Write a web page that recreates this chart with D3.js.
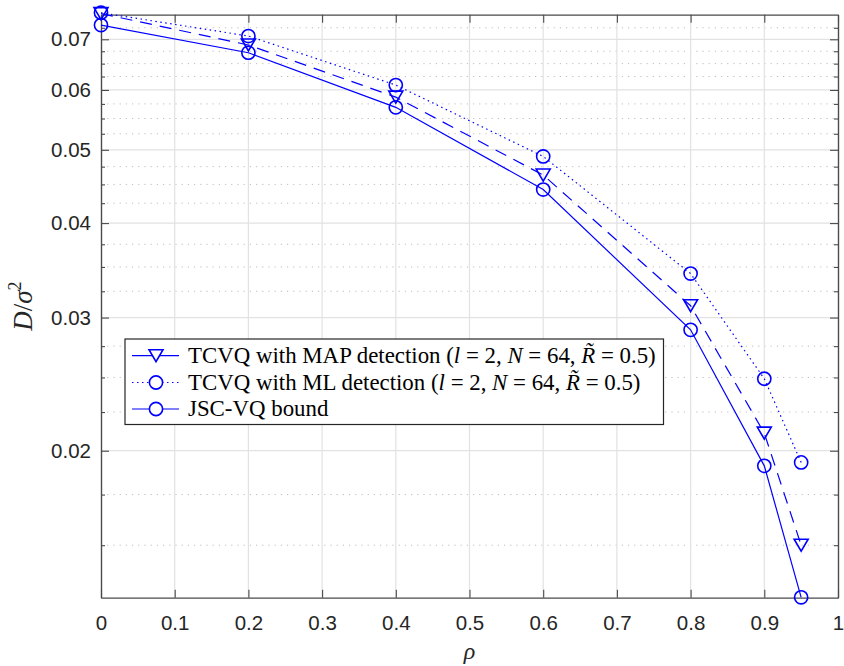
<!DOCTYPE html>
<html>
<head>
<meta charset="utf-8">
<script src="https://cdn.jsdelivr.net/npm/d3@7"></script>
<style>
  html, body { margin: 0; padding: 0; background: #fff; }
  svg { display: block; }
</style>
</head>
<body>
<svg id="chart" width="844" height="666"></svg>
<script>
// ---- data ----
const rho = [0, 0.2, 0.4, 0.6, 0.8, 0.9, 0.95];
const mapDet = [0.0757, 0.0688, 0.0587, 0.0463, 0.0311, 0.0211, 0.0150];
const mlDet  = [0.0759, 0.0707, 0.0609, 0.0490, 0.0343, 0.0249, 0.0193];
const jscBound = [0.0731, 0.0672, 0.0569, 0.0443, 0.0289, 0.0191, 0.0128];

const xTicks = [0, 0.1, 0.2, 0.3, 0.4, 0.5, 0.6, 0.7, 0.8, 0.9, 1];
const yMajorTicks = [0.02, 0.03, 0.04, 0.05, 0.06, 0.07];
const yMinorTicks = [0.015, 0.0175, 0.0225, 0.025, 0.0275, 0.0325, 0.035, 0.0375,
                     0.0425, 0.045, 0.0475, 0.0525, 0.055, 0.0575, 0.0625, 0.065, 0.0675, 0.0725];
const yDomain = [0.012784, 0.075445];

const legendLabels = ["MAP", "ML", "JSC"];

// ---- layout ----
const L = 101, R = 838, T = 14.7, B = 597.7;
const blue = "#0000ff";
const axisColor = "#4a4a4a";
const textColor = "#262626";

const svg = d3.select("#chart");
const x = d3.scaleLinear().domain([0, 1]).range([L, R]);
const y = d3.scaleLog().domain(yDomain).range([B, T]);

// grid
const grid = svg.append("g");
grid.selectAll(".ymin").data(yMinorTicks).enter().append("line")
  .attr("x1", L).attr("x2", R)
  .attr("y1", d => y(d)).attr("y2", d => y(d))
  .attr("stroke", "#bdbdbd").attr("stroke-width", 1)
  .attr("stroke-dasharray", "1.2,5");
grid.selectAll(".xg").data(xTicks.slice(1, -1)).enter().append("line")
  .attr("x1", d => x(d)).attr("x2", d => x(d))
  .attr("y1", T).attr("y2", B)
  .attr("stroke", "#e2e2e2").attr("stroke-width", 1.2);
grid.selectAll(".yg").data(yMajorTicks).enter().append("line")
  .attr("x1", L).attr("x2", R)
  .attr("y1", d => y(d)).attr("y2", d => y(d))
  .attr("stroke", "#e2e2e2").attr("stroke-width", 1.2);

// axes (box)
const ax = svg.append("g");
const xAxisB = d3.axisBottom(x).tickValues(xTicks).tickFormat(d3.format("~g")).tickSizeInner(-8).tickSizeOuter(0).tickPadding(18);
const gxb = ax.append("g").attr("transform", `translate(0,${B})`).call(xAxisB);
const xAxisT = d3.axisTop(x).tickValues(xTicks).tickFormat("").tickSizeInner(-8).tickSizeOuter(0);
const gxt = ax.append("g").attr("transform", `translate(0,${T})`).call(xAxisT);
const yAxisL = d3.axisLeft(y).tickValues(yMajorTicks).tickFormat(d3.format("~g")).tickSizeInner(-8).tickSizeOuter(0).tickPadding(18);
const gyl = ax.append("g").attr("transform", `translate(${L},0)`).call(yAxisL);
const yAxisLm = d3.axisLeft(y).tickValues(yMinorTicks).tickFormat("").tickSizeInner(-4).tickSizeOuter(0);
const gylm = ax.append("g").attr("transform", `translate(${L},0)`).call(yAxisLm);
const yAxisR = d3.axisRight(y).tickValues(yMajorTicks).tickFormat("").tickSizeInner(-8).tickSizeOuter(0);
const gyr = ax.append("g").attr("transform", `translate(${R},0)`).call(yAxisR);
const yAxisRm = d3.axisRight(y).tickValues(yMinorTicks).tickFormat("").tickSizeInner(-4).tickSizeOuter(0);
const gyrm = ax.append("g").attr("transform", `translate(${R},0)`).call(yAxisRm);

[gxb, gxt, gyl, gylm, gyr, gyrm].forEach(g => {
  g.select(".domain").attr("stroke", axisColor).attr("stroke-width", 1.2);
  g.selectAll(".tick line").attr("stroke", axisColor).attr("stroke-width", 1.1);
  g.selectAll(".tick text").attr("fill", textColor)
    .style("font-family", "'Liberation Sans', Arial, Helvetica, sans-serif")
    .style("font-size", "20.5px");
});
gyl.selectAll(".tick text").attr("x", -10);
gxb.selectAll(".tick text").attr("y", 18);

// series
const line = d3.line().x((d, i) => x(rho[i])).y(d => y(d));
const series = [
  { key: "MAP", vals: mapDet, dash: "12,8", legDash: null, marker: "tri" },
  { key: "ML", vals: mlDet, dash: "1.5,3.5", legDash: "1.5,3.5", marker: "circ" },
  { key: "JSC", vals: jscBound, dash: null, legDash: null, marker: "circ" }
];
const triPath = "M-7,-6L7,-6L0,6Z";

series.forEach(s => {
  svg.append("path").datum(s.vals).attr("d", line)
    .attr("fill", "none").attr("stroke", blue).attr("stroke-width", 1.2)
    .attr("stroke-dasharray", s.dash);
  const g = svg.append("g");
  s.vals.forEach((v, i) => {
    if (s.marker === "tri") {
      g.append("path").attr("d", triPath)
        .attr("transform", `translate(${x(rho[i])},${y(v)})`)
        .attr("fill", "none").attr("stroke", blue).attr("stroke-width", 1.6);
    } else {
      g.append("circle").attr("cx", x(rho[i])).attr("cy", y(v)).attr("r", 6.6)
        .attr("fill", "none").attr("stroke", blue).attr("stroke-width", 1.6);
    }
  });
});

// axis labels
svg.append("text").attr("x", (L + R) / 2).attr("y", 659)
  .attr("text-anchor", "middle")
  .style("font-family", "'Liberation Serif', 'DejaVu Serif', serif")
  .style("font-style", "italic").style("font-size", "24px").attr("fill", textColor)
  .text("ρ");

const yl = svg.append("text")
  .attr("transform", `translate(32,${(T + B) / 2}) rotate(-90)`)
  .attr("text-anchor", "middle")
  .style("font-family", "'Liberation Serif', 'DejaVu Serif', serif")
  .style("font-size", "27px").attr("fill", textColor);
yl.append("tspan").style("font-style", "italic").text("D");
yl.append("tspan").text("/");
yl.append("tspan").style("font-style", "italic").text("σ");
yl.append("tspan").attr("dy", -11).style("font-size", "18px").text("2");

// legend
const lg = svg.append("g");
lg.append("rect").attr("x", 125).attr("y", 339).attr("width", 538.5).attr("height", 85.5)
  .attr("fill", "#fff").attr("stroke", "#262626").attr("stroke-width", 1.2);
const rowsY = [355.7, 382.5, 409];
const legendText = [
  [["TCVQ with MAP detection (", 0], ["l", 1], [" = 2, ", 0], ["N", 1], [" = 64, ", 0], ["R\u0303", 1], [" = 0.5)", 0]],
  [["TCVQ with ML detection (", 0], ["l", 1], [" = 2, ", 0], ["N", 1], [" = 64, ", 0], ["R\u0303", 1], [" = 0.5)", 0]],
  [["JSC-VQ bound", 0]]
];
const texts = [];
series.forEach((s, i) => {
  const yy = rowsY[i];
  lg.append("line").attr("x1", 132).attr("x2", 179).attr("y1", yy).attr("y2", yy)
    .attr("stroke", blue).attr("stroke-width", 1.2).attr("stroke-dasharray", s.legDash);
  if (s.marker === "tri") {
    lg.append("path").attr("d", triPath).attr("transform", `translate(156,${yy})`)
      .attr("fill", "#fff").attr("stroke", blue).attr("stroke-width", 1.6);
  } else {
    lg.append("circle").attr("cx", 156).attr("cy", yy).attr("r", 6.6)
      .attr("fill", "#fff").attr("stroke", blue).attr("stroke-width", 1.6);
  }
  const t = lg.append("text").attr("x", 188).attr("y", yy + 7)
    .attr("data-label", legendLabels[i])
    .style("font-family", "'Liberation Serif', 'DejaVu Serif', serif")
    .style("font-size", "20px").attr("fill", "#000");
  legendText[i].forEach(([str, it]) => {
    t.append("tspan").style("font-style", it ? "italic" : "normal").text(str);
  });
  texts.push(t);
});
// fit legend font size to target width of first row
const w0 = texts[0].node().getComputedTextLength();
const fs = Math.max(14, Math.min(26, 20 * 468 / w0));
texts.forEach(t => t.style("font-size", fs + "px"));
</script>
</body>
</html>
